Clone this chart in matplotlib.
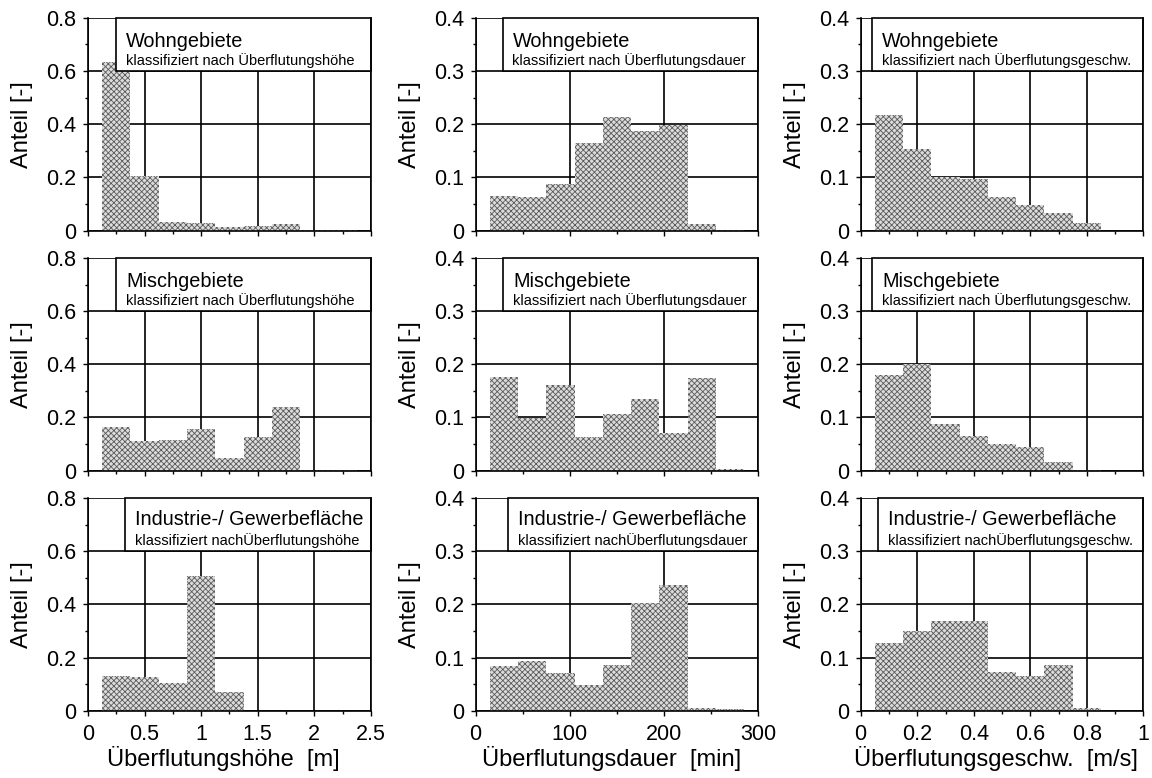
import matplotlib
matplotlib.use("Agg")
import matplotlib.pyplot as plt
from matplotlib.patches import Rectangle
from matplotlib.ticker import MultipleLocator, FuncFormatter

plt.rcParams['font.family'] = ['Liberation Sans', 'DejaVu Sans']
plt.rcParams['hatch.linewidth'] = 0.6

# bin centres of the three classifications
hoehe_centers = [0.25, 0.5, 0.75, 1.0, 1.25, 1.5, 1.75, 2.0, 2.25]
dauer_centers = [30, 60, 90, 120, 150, 180, 210, 240, 270]
geschw_centers = [0.1, 0.2, 0.3, 0.4, 0.5, 0.6, 0.7, 0.8]

# Anteil [-] per class
wohn_hoehe = [0.634, 0.204, 0.034, 0.029, 0.015, 0.018, 0.024, 0.002, 0.002]
misch_hoehe = [0.163, 0.110, 0.116, 0.156, 0.047, 0.125, 0.238, 0.003, 0.002]
ind_hoehe = [0.130, 0.127, 0.104, 0.506, 0.069, 0.0, 0.0, 0.0, 0.0]

wohn_dauer = [0.066, 0.063, 0.087, 0.164, 0.214, 0.187, 0.198, 0.013, 0.002]
misch_dauer = [0.177, 0.099, 0.162, 0.063, 0.106, 0.135, 0.071, 0.175, 0.003]
ind_dauer = [0.084, 0.094, 0.070, 0.049, 0.086, 0.202, 0.236, 0.005, 0.004]

wohn_geschw = [0.217, 0.153, 0.100, 0.098, 0.064, 0.048, 0.033, 0.015]
misch_geschw = [0.180, 0.200, 0.087, 0.066, 0.051, 0.044, 0.017, 0.002]
ind_geschw = [0.128, 0.150, 0.169, 0.169, 0.072, 0.065, 0.086, 0.006]

row_titles = ['Wohngebiete', 'Mischgebiete', 'Industrie-/ Gewerbefläche']
sub_sep = [' ', ' ', '']
col_names = ['Überflutungshöhe', 'Überflutungsdauer', 'Überflutungsgeschw.']
x_labels = ['Überflutungshöhe  [m]', 'Überflutungsdauer  [min]', 'Überflutungsgeschw.  [m/s]']

centers = [hoehe_centers, dauer_centers, geschw_centers]
values = [[wohn_hoehe, wohn_dauer, wohn_geschw],
          [misch_hoehe, misch_dauer, misch_geschw],
          [ind_hoehe, ind_dauer, ind_geschw]]

# axis settings per column: xmax, x major, x minor, bin width, ymax, y major, y minor
col_cfg = [(2.5, 0.5, 0.25, 0.25, 0.8, 0.2, 0.1),
           (300, 100, 50, 30, 0.4, 0.1, 0.05),
           (1.0, 0.2, 0.1, 0.1, 0.4, 0.1, 0.05)]

lefts = [0.0764, 0.4129, 0.7471]
bottoms = [0.7035, 0.395, 0.0865]
w, h = 0.2455, 0.2735
box_left = [[0.100, 0.095, 0.039], [0.100, 0.097, 0.041], [0.132, 0.115, 0.062]]

fmt = FuncFormatter(lambda v, p: '0' if abs(v) < 1e-9 else f'{v:g}')

fig = plt.figure(figsize=(11.52, 7.78), dpi=100)

for r in range(3):
    for c in range(3):
        xmax, xmaj, xmin_, bw, ymax, ymaj, ymin_ = col_cfg[c]
        ax = fig.add_axes([lefts[c], bottoms[r], w, h])
        ax.bar(centers[c], values[r][c], width=bw, facecolor='#dcdcdc',
               edgecolor='#5a5a5a', linewidth=0, hatch='xxxxxx', zorder=2)
        ax.set_xlim(0, xmax)
        ax.set_ylim(0, ymax)
        ax.xaxis.set_major_locator(MultipleLocator(xmaj))
        ax.xaxis.set_minor_locator(MultipleLocator(xmin_))
        ax.yaxis.set_major_locator(MultipleLocator(ymaj))
        ax.yaxis.set_minor_locator(MultipleLocator(ymin_))
        ax.xaxis.set_major_formatter(fmt)
        ax.yaxis.set_major_formatter(fmt)
        ax.set_axisbelow(True)
        ax.grid(True, which='major', color='black', linewidth=1.2)
        ax.spines['top'].set_visible(False)
        for s in ['left', 'bottom', 'right']:
            ax.spines[s].set_linewidth(1.2)
            ax.spines[s].set_zorder(7)
        ax.tick_params(which='major', direction='out', length=3.5, width=1,
                       labelsize=15.5, right=False, top=False)
        ax.tick_params(which='minor', direction='out', length=2.2, width=1)
        ax.tick_params(axis='y', pad=5)
        ax.tick_params(axis='x', pad=6)
        if r < 2:
            ax.tick_params(axis='x', labelbottom=False)
        else:
            ax.set_xlabel(x_labels[c], fontsize=17)
            ax.xaxis.set_label_coords(0.48, -0.165)
        ax.set_ylabel('Anteil [-]', fontsize=17)
        ax.yaxis.set_label_coords(-0.195, 0.5)

        bl = box_left[r][c]
        ax.add_patch(Rectangle((bl, 0.75), 1 - bl, 0.25, transform=ax.transAxes,
                               facecolor='white', edgecolor='black', linewidth=1.2,
                               clip_on=False, zorder=5))
        y1 = 0.875 if r == 2 else 0.865
        ax.text(bl + 0.035, y1, row_titles[r], transform=ax.transAxes,
                fontsize=14.3, va='baseline', zorder=6)
        ax.text(bl + 0.035, 0.778, 'klassifiziert nach' + sub_sep[r] + col_names[c],
                transform=ax.transAxes, fontsize=10.5, va='baseline', zorder=6)

fig.savefig('out.png', dpi=100)
